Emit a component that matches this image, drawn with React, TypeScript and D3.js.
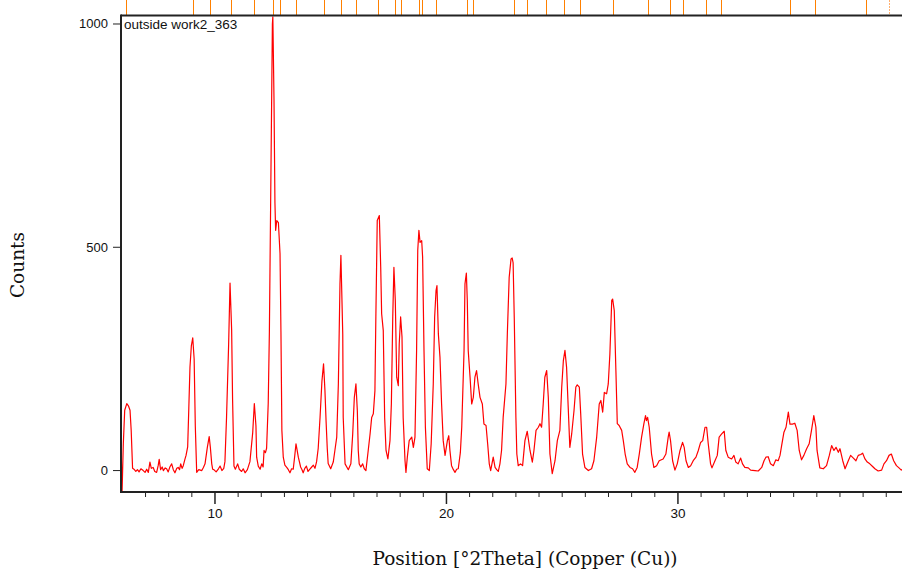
import React from "react";
import * as d3 from "d3";

const twoTheta = [
  5.95, 5.98, 6.04, 6.1, 6.19, 6.26, 6.33, 6.38, 6.44, 6.5, 6.58, 6.65, 6.72, 6.8, 6.9, 6.98, 7.05, 7.12, 7.19, 7.25,
  7.33, 7.4, 7.48, 7.55, 7.59, 7.65, 7.72, 7.77, 7.85, 7.91, 7.98, 8.05, 8.13, 8.2, 8.27, 8.35, 8.41, 8.47, 8.52, 8.58,
  8.63, 8.7, 8.75, 8.82, 8.87, 8.92, 8.98, 9.04, 9.1, 9.15, 9.21, 9.3, 9.43, 9.5, 9.57, 9.67, 9.75, 9.8, 9.86, 9.9,
  9.95, 10.05, 10.15, 10.22, 10.3, 10.38, 10.43, 10.5, 10.59, 10.65, 10.72, 10.76, 10.82, 10.88, 10.98, 11.05, 11.15, 11.22, 11.3, 11.4,
  11.51, 11.63, 11.7, 11.77, 11.8, 11.87, 11.95, 12.02, 12.08, 12.12, 12.18, 12.23, 12.3, 12.35, 12.42, 12.48, 12.5, 12.55, 12.59, 12.62,
  12.67, 12.74, 12.81, 12.85, 12.89, 12.95, 13.02, 13.1, 13.17, 13.24, 13.31, 13.38, 13.44, 13.5, 13.55, 13.6, 13.7, 13.76, 13.81, 13.88,
  13.95, 14.02, 14.1, 14.18, 14.25, 14.32, 14.39, 14.46, 14.54, 14.62, 14.69, 14.75, 14.8, 14.85, 14.89, 15.0, 15.11, 15.18, 15.26, 15.33,
  15.4, 15.44, 15.52, 15.54, 15.62, 15.76, 15.87, 15.95, 16.02, 16.09, 16.15, 16.19, 16.23, 16.3, 16.38, 16.45, 16.52, 16.62, 16.7, 16.77,
  16.84, 16.91, 16.95, 17.01, 17.1, 17.16, 17.2, 17.27, 17.33, 17.39, 17.47, 17.56, 17.62, 17.68, 17.73, 17.79, 17.85, 17.92, 17.96, 18.02,
  18.08, 18.13, 18.21, 18.25, 18.31, 18.39, 18.5, 18.57, 18.64, 18.71, 18.76, 18.81, 18.86, 18.93, 18.97, 19.03, 19.09, 19.17, 19.26, 19.34,
  19.43, 19.49, 19.55, 19.59, 19.65, 19.72, 19.79, 19.86, 19.94, 20.04, 20.1, 20.15, 20.22, 20.3, 20.37, 20.44, 20.51, 20.6, 20.66, 20.76,
  20.8, 20.86, 20.9, 20.94, 21.02, 21.09, 21.16, 21.23, 21.3, 21.37, 21.45, 21.55, 21.62, 21.71, 21.78, 21.85, 21.91, 22.02, 22.1, 22.17,
  22.24, 22.31, 22.38, 22.45, 22.57, 22.63, 22.71, 22.79, 22.84, 22.88, 22.93, 23.0, 23.04, 23.1, 23.2, 23.29, 23.39, 23.49, 23.61, 23.71,
  23.78, 23.87, 23.97, 24.04, 24.11, 24.18, 24.25, 24.33, 24.4, 24.47, 24.57, 24.69, 24.79, 24.9, 24.98, 25.05, 25.12, 25.19, 25.26, 25.33,
  25.41, 25.51, 25.59, 25.65, 25.74, 25.8, 25.88, 25.98, 26.13, 26.27, 26.37, 26.49, 26.6, 26.67, 26.75, 26.82, 26.92, 26.99, 27.06, 27.14,
  27.18, 27.25, 27.32, 27.38, 27.46, 27.57, 27.64, 27.72, 27.81, 27.93, 28.04, 28.14, 28.24, 28.33, 28.43, 28.53, 28.6, 28.64, 28.69, 28.76,
  28.86, 28.96, 29.08, 29.19, 29.36, 29.48, 29.58, 29.62, 29.68, 29.77, 29.87, 29.97, 30.09, 30.2, 30.27, 30.35, 30.45, 30.55, 30.66, 30.78,
  30.88, 30.98, 31.07, 31.17, 31.24, 31.31, 31.41, 31.47, 31.6, 31.7, 31.78, 31.89, 32.0, 32.07, 32.17, 32.32, 32.42, 32.5, 32.6, 32.71,
  32.79, 32.89, 33.04, 33.14, 33.33, 33.47, 33.62, 33.72, 33.8, 33.9, 34.0, 34.12, 34.23, 34.33, 34.41, 34.48, 34.58, 34.67, 34.77, 34.84,
  34.95, 35.05, 35.15, 35.24, 35.34, 35.44, 35.56, 35.67, 35.77, 35.87, 35.96, 36.01, 36.13, 36.28, 36.42, 36.54, 36.64, 36.74, 36.83, 36.93,
  37.0, 37.12, 37.22, 37.36, 37.46, 37.58, 37.69, 37.79, 37.9, 37.98, 38.08, 38.18, 38.29, 38.41, 38.51, 38.65, 38.8, 38.9, 39.01, 39.12,
  39.22, 39.32, 39.44, 39.55, 39.65, 39.7,
];

const counts = [
  50, -60, 60, 135, 150, 145, 135, 90, 5, 3, -2, 2, -3, 4, 0, -4, 3, -4, 19, 5,
  7, -2, -4, 12, 25, 2, 8, 0, 6, 4, -3, 8, 15, 2, -5, 5, 7, 2, 15, 5,
  11, 25, 34, 53, 140, 232, 280, 297, 250, 100, -4, 2, 0, 7, 15, 52, 76, 52, 15, 3,
  2, -3, 4, 10, 0, 5, 20, 120, 283, 420, 315, 160, 10, 3, 15, 3, -2, 4, -5, 2,
  20, 85, 150, 100, 30, 10, 3, 15, 8, 45, 40, 50, 150, 310, 680, 1000, 1016, 830, 600, 538,
  560, 555, 486, 310, 90, 30, 12, 7, 2, -5, 4, 3, 30, 60, 45, 30, 8, 2, -5, 5,
  10, -2, 3, 8, 12, 5, 20, 50, 120, 200, 239, 180, 110, 50, 16, 4, 19, 45, 75, 194,
  418, 482, 306, 119, 15, 2, 15, 82, 164, 194, 134, 45, 15, 8, 15, 4, 0, 45, 82, 119,
  127, 179, 344, 560, 571, 455, 351, 314, 119, 45, 26, 67, 149, 344, 455, 381, 209, 190, 284, 344,
  299, 119, 22, -4, 30, 67, 75, 52, 75, 269, 493, 538, 511, 515, 478, 269, 97, 4, 0, 60,
  194, 344, 403, 414, 306, 254, 149, 67, 34, 67, 78, 45, 11, 2, -4, 3, 4, 40, 97, 269,
  418, 442, 381, 269, 209, 149, 164, 209, 224, 194, 164, 149, 104, 101, 60, 15, 0, 30, 7, 2,
  -2, 15, 45, 119, 194, 306, 433, 474, 476, 465, 340, 119, 37, 11, 15, 11, 67, 88, 45, 19,
  45, 90, 97, 105, 97, 149, 209, 224, 164, 37, -7, 22, 67, 90, 187, 246, 269, 231, 142, 52,
  82, 134, 187, 192, 187, 127, 37, 7, 0, 4, 22, 75, 149, 157, 131, 175, 172, 194, 261, 381,
  384, 358, 224, 105, 101, 90, 67, 37, 15, 7, 4, -4, 7, 37, 75, 105, 123, 112, 119, 97,
  37, 7, 11, 22, 26, 37, 75, 86, 67, 22, 1, 15, 45, 63, 52, 22, 7, 11, 22, 30,
  45, 63, 67, 97, 97, 60, 15, 6, 22, 34, 75, 82, 88, 45, 30, 26, 34, 19, 15, 28,
  15, 7, 6, 1, 0, -1, 7, 22, 30, 31, 15, 11, 24, 22, 34, 56, 86, 97, 131, 104,
  104, 106, 90, 45, 24, 34, 49, 60, 90, 123, 97, 45, 6, 4, 11, 34, 56, 45, 52, 41,
  49, 22, 4, 22, 34, 28, 22, 34, 36, 39, 26, 19, 15, 9, 4, -1, 1, 15, 22, 34,
  37, 22, 11, 6, 1, 3,
];

const refPeaks = [
  6.16, 9.05, 9.78, 10.69, 11.68, 12.51, 12.81, 13.5, 14.71, 15.44, 16.09, 17.04, 17.78, 18.03, 18.81, 18.94, 19.55,
  20.89, 21.14, 22.92, 23.48, 24.3, 25.08, 25.77, 27.19, 28.7, 29.65, 30.22, 31.21, 31.86, 34.84, 35.92, 38.12,
];
const refPeaksDashed = [39.11];

const yTicks = [0, 500, 1000];
const xMajorTicks = [10, 20, 30];
const xMinorTicks = [7, 8, 9, 11, 12, 13, 14, 15, 16, 17, 18, 19, 21, 22, 23, 24, 25, 26, 27, 28, 29, 31, 32, 33, 34, 35, 36, 37, 38, 39];

const sampleName = "outside work2_363";
const xTitle = "Position [°2Theta] (Copper (Cu))";
const yTitle = "Counts";

export default function App() {
  const W = 902;
  const H = 579;
  const left = 121;
  const right = 902;
  const top = 15.5;
  const bottom = 492;

  const x = d3.scaleLinear().domain([5.94, 39.68]).range([left, right]);
  const y = d3.scaleLinear().domain([-48, 1019]).range([bottom, top]);

  const pts: [number, number][] = twoTheta.map((t, i) => [t, counts[i]]);
  const line = d3
    .line<[number, number]>()
    .x((d) => x(d[0]))
    .y((d) => y(d[1]));

  const sans = "'Liberation Sans', Arial, sans-serif";
  const serif = "'DejaVu Serif', serif";

  return (
    <svg
      width={W}
      height={H}
      style={{ position: "absolute", left: 0, top: 0, background: "#fff" }}
    >
      <defs>
        <clipPath id="plotClip">
          <rect x={left} y={top} width={right - left} height={bottom - top} />
        </clipPath>
      </defs>

      {/* reference peak markers */}
      {refPeaks.map((p) => (
        <line
          key={"r" + p}
          x1={Math.round(x(p)) + 0.5}
          x2={Math.round(x(p)) + 0.5}
          y1={0}
          y2={top}
          stroke="#ff8000"
          strokeWidth={1}
        />
      ))}
      {refPeaksDashed.map((p) => (
        <line
          key={"d" + p}
          x1={Math.round(x(p)) + 0.5}
          x2={Math.round(x(p)) + 0.5}
          y1={0}
          y2={top}
          stroke="#ffb070"
          strokeWidth={1}
          strokeDasharray="2,1"
        />
      ))}

      {/* pattern */}
      <path
        d={line(pts) || ""}
        fill="none"
        stroke="#ff0000"
        strokeWidth={1.2}
        strokeLinejoin="round"
        clipPath="url(#plotClip)"
      />

      {/* frame */}
      <line x1={left} x2={right} y1={top} y2={top} stroke="#222" strokeWidth={2} />
      <line x1={left} x2={left} y1={top - 1} y2={bottom + 1} stroke="#222" strokeWidth={2} />
      <line x1={left} x2={right} y1={bottom} y2={bottom} stroke="#222" strokeWidth={2} />

      {/* y ticks */}
      {yTicks.map((t) => (
        <g key={"y" + t}>
          <line x1={left - 8} x2={left} y1={y(t)} y2={y(t)} stroke="#222" strokeWidth={1} />
          <text
            x={left - 13}
            y={y(t)}
            textAnchor="end"
            dominantBaseline="central"
            fontFamily={sans}
            fontSize={13}
            fill="#111"
          >
            {t}
          </text>
        </g>
      ))}

      {/* x ticks */}
      {xMinorTicks.map((t) => (
        <line key={"xm" + t} x1={x(t)} x2={x(t)} y1={bottom} y2={bottom + 5} stroke="#222" strokeWidth={1} />
      ))}
      {xMajorTicks.map((t) => (
        <g key={"xM" + t}>
          <line x1={x(t)} x2={x(t)} y1={bottom} y2={bottom + 12} stroke="#222" strokeWidth={1.5} />
          <text x={x(t)} y={518} textAnchor="middle" fontFamily={sans} fontSize={13.5} fill="#111">
            {t}
          </text>
        </g>
      ))}

      {/* sample label */}
      <text x={124} y={29} fontFamily={sans} fontSize={13.5} fill="#111">
        {sampleName}
      </text>

      {/* axis titles */}
      <text x={525} y={565} textAnchor="middle" fontFamily={serif} fontSize={18.5} fill="#111">
        {xTitle}
      </text>
      <text
        transform="translate(24,265) rotate(-90)"
        textAnchor="middle"
        fontFamily={serif}
        fontSize={18.5}
        fill="#111"
      >
        {yTitle}
      </text>
    </svg>
  );
}
